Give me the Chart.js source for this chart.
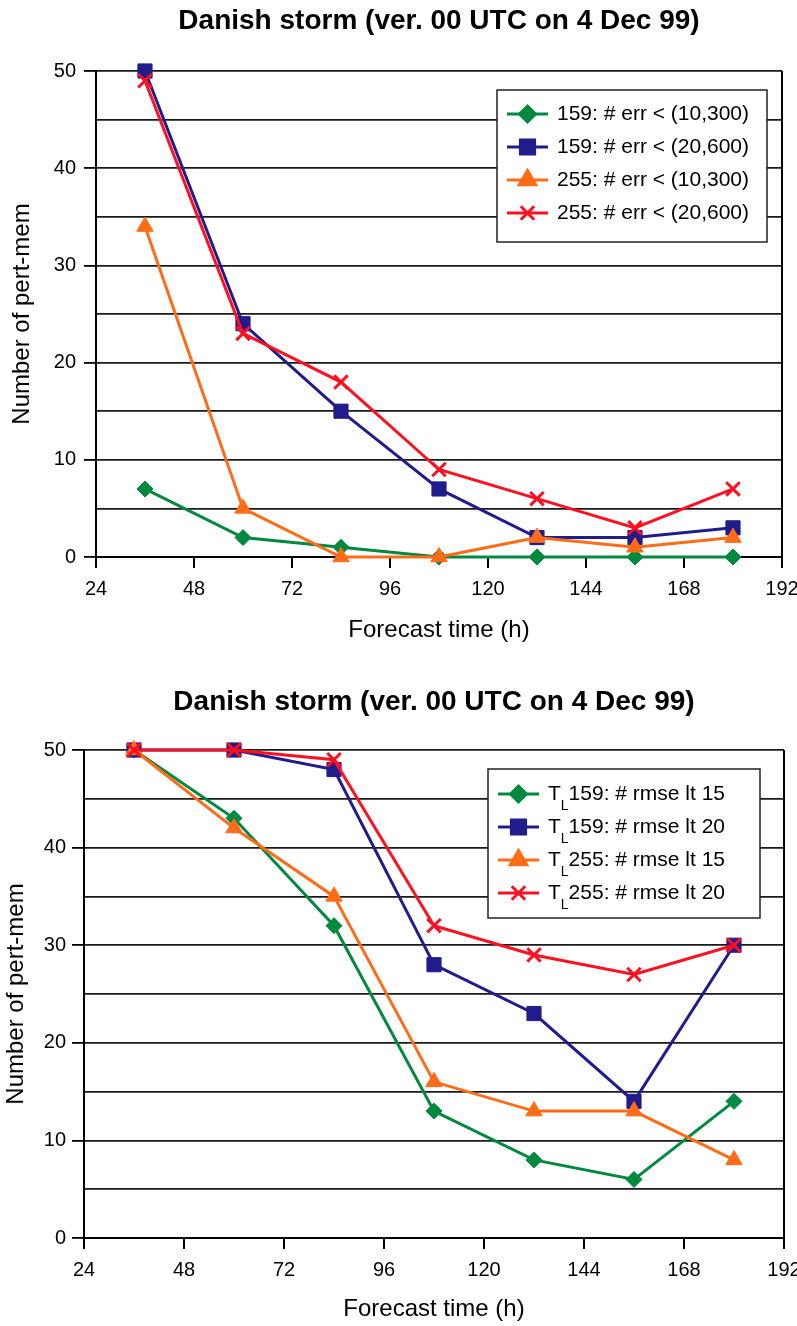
<!DOCTYPE html>
<html>
<head>
<meta charset="utf-8">
<script src="https://cdn.jsdelivr.net/npm/chart.js@4.4.1/dist/chart.umd.min.js"></script>
<style>
  body { margin: 0; background: #fff; }
  canvas { display: block; }
</style>
</head>
<body>
<canvas id="errChart" width="797" height="663"></canvas>
<canvas id="rmseChart" width="797" height="663"></canvas>
<script>
// forecast hours (same for both panels)
const hours = [36, 60, 84, 108, 132, 156, 180];
const xTicks = [24, 48, 72, 96, 120, 144, 168, 192];

// top panel: number of members with error below thresholds
const errLabels = ['159: # err < (10,300)', '159: # err < (20,600)', '255: # err < (10,300)', '255: # err < (20,600)'];
const err159_10 = [7, 2, 1, 0, 0, 0, 0];
const err159_20 = [50, 24, 15, 7, 2, 2, 3];
const err255_10 = [34, 5, 0, 0, 2, 1, 2];
const err255_20 = [49, 23, 18, 9, 6, 3, 7];

// bottom panel: number of members with rmse below thresholds
const rmseLabels = ['159: # rmse lt 15', '159: # rmse lt 20', '255: # rmse lt 15', '255: # rmse lt 20'];
const rmse159_15 = [50, 43, 32, 13, 8, 6, 14];
const rmse159_20 = [50, 50, 48, 28, 23, 14, 30];
const rmse255_15 = [50, 42, 35, 16, 13, 13, 8];
const rmse255_20 = [50, 50, 49, 32, 29, 27, 30];

const GREEN = '#00893f', NAVY = '#211c8c', ORANGE = '#ff6c17', RED = '#ff1020';
const styles = [
  { color: GREEN, point: 'rectRot', radius: 8 },
  { color: NAVY, point: 'rect', radius: 10 },
  { color: ORANGE, point: 'triangle', radius: 9.5 },
  { color: RED, point: 'crossRot', radius: 9.5 }
];
const FONT = '"Liberation Sans", Arial, sans-serif';

function toPoints(vals) {
  return vals.map((v, i) => ({ x: hours[i], y: v }));
}

// title + frame + legend drawn on canvas
const decorPlugin = {
  id: 'decor',
  afterDraw(chart) {
    const o = chart.options.plugins.decor;
    const { ctx, chartArea: a } = chart;
    ctx.save();
    // right frame line
    ctx.strokeStyle = '#000';
    ctx.lineWidth = 2;
    ctx.beginPath();
    ctx.moveTo(a.right, a.top);
    ctx.lineTo(a.right, a.bottom);
    ctx.stroke();
    // title
    ctx.fillStyle = '#000';
    ctx.font = 'bold 28px ' + FONT;
    ctx.textAlign = 'center';
    ctx.textBaseline = 'middle';
    ctx.fillText(o.title, (a.left + a.right) / 2, o.titleY);
    // legend box
    const bx = a.right - o.boxRight, by = a.top + o.boxTop;
    ctx.fillStyle = '#fff';
    ctx.fillRect(bx, by, o.boxW, o.boxH);
    ctx.lineWidth = 1.5;
    ctx.strokeStyle = '#222';
    ctx.strokeRect(bx, by, o.boxW, o.boxH);
    o.labels.forEach((lab, i) => {
      const st = styles[i];
      const y = by + o.rowTop + i * 33;
      const x0 = bx + 10, x1 = bx + 51;
      ctx.strokeStyle = st.color;
      ctx.fillStyle = st.color;
      ctx.lineWidth = 3;
      ctx.beginPath();
      ctx.moveTo(x0, y);
      ctx.lineTo(x1, y);
      ctx.stroke();
      Chart.helpers.drawPoint(ctx, { pointStyle: st.point, radius: st.radius, borderWidth: st.point === 'crossRot' ? 3 : 1 }, (x0 + x1) / 2, y);
      ctx.fillStyle = '#000';
      ctx.textAlign = 'left';
      ctx.textBaseline = 'middle';
      let tx = x1 + 9;
      if (o.subL) {
        ctx.font = '21px ' + FONT;
        ctx.fillText('T', tx, y);
        tx += ctx.measureText('T').width;
        ctx.font = '14px ' + FONT;
        ctx.fillText('L', tx, y + 12);
        tx += ctx.measureText('L').width;
      }
      ctx.font = '21px ' + FONT;
      ctx.fillText(lab, tx, y);
    });
    ctx.restore();
  }
};

function makeChart(id, series, decor, lay) {
  const el = document.getElementById(id);
  return new Chart(el, {
    type: 'line',
    data: {
      datasets: series.map((vals, i) => ({
        data: toPoints(vals),
        borderColor: styles[i].color,
        backgroundColor: styles[i].color,
        pointStyle: styles[i].point,
        pointRadius: styles[i].radius,
        pointBorderWidth: styles[i].point === 'crossRot' ? 3 : 1,
        borderWidth: 3,
        tension: 0,
        clip: false,
        order: 4 - i
      }))
    },
    options: {
      responsive: false,
      animation: false,
      events: [],
      layout: { padding: { top: lay.top, right: lay.right, left: 0, bottom: lay.bottom } },
      plugins: { legend: { display: false }, tooltip: { enabled: false }, title: { display: false }, decor: decor },
      scales: {
        x: {
          type: 'linear', min: 24, max: 192,
          afterBuildTicks(s) { s.ticks = xTicks.map(v => ({ value: v })); },
          afterFit(s) { s.height = lay.xh; s.paddingLeft = 0; s.paddingRight = 0; },
          border: { display: true, color: '#000', width: 2 },
          grid: { drawOnChartArea: false, drawTicks: true, tickLength: 11, color: '#000', lineWidth: 2 },
          ticks: { color: '#000', font: { family: FONT, size: 20 }, padding: 9, maxRotation: 0 },
          title: { display: true, text: 'Forecast time (h)', color: '#000', font: { family: FONT, size: 24 }, padding: { top: 0, bottom: lay.xtPad } }
        },
        y: {
          min: 0, max: 50,
          afterFit(s) { s.width = lay.left; s.paddingTop = 0; s.paddingBottom = 0; },
          border: { display: true, color: '#000', width: 2 },
          grid: {
            color: '#1a1a1a', lineWidth: 1.8, tickLength: 12,
            tickColor: c => (c.tick && c.tick.value % 10 === 0) ? '#000' : 'rgba(0,0,0,0)'
          },
          ticks: { stepSize: 5, color: '#000', font: { family: FONT, size: 20 }, padding: lay.ylPad,
            callback: v => (v % 10 === 0 ? v : '') },
          title: { display: true, text: 'Number of pert-mem', color: '#000', font: { family: FONT, size: 24 }, padding: { top: lay.ytPad, bottom: 0 } }
        }
      }
    },
    plugins: [decorPlugin]
  });
}

makeChart('errChart', [err159_10, err159_20, err255_10, err255_20],
  { title: 'Danish storm (ver. 00 UTC on 4 Dec 99)', titleY: 21, labels: errLabels, subL: false,
    boxRight: 285, boxTop: 19, boxW: 270, boxH: 152, rowTop: 24 },
  { top: 71, right: 15, bottom: 0, left: 96, xh: 106, xtPad: 18, ytPad: 8, ylPad: 8 });

makeChart('rmseChart', [rmse159_15, rmse159_20, rmse255_15, rmse255_20],
  { title: 'Danish storm (ver. 00 UTC on 4 Dec 99)', titleY: 39, labels: rmseLabels, subL: true,
    boxRight: 296, boxTop: 19, boxW: 272, boxH: 149, rowTop: 25 },
  { top: 87, right: 13, bottom: 0, left: 84, xh: 88, xtPad: 2, ytPad: 2, ylPad: 6 });
</script>
</body>
</html>
